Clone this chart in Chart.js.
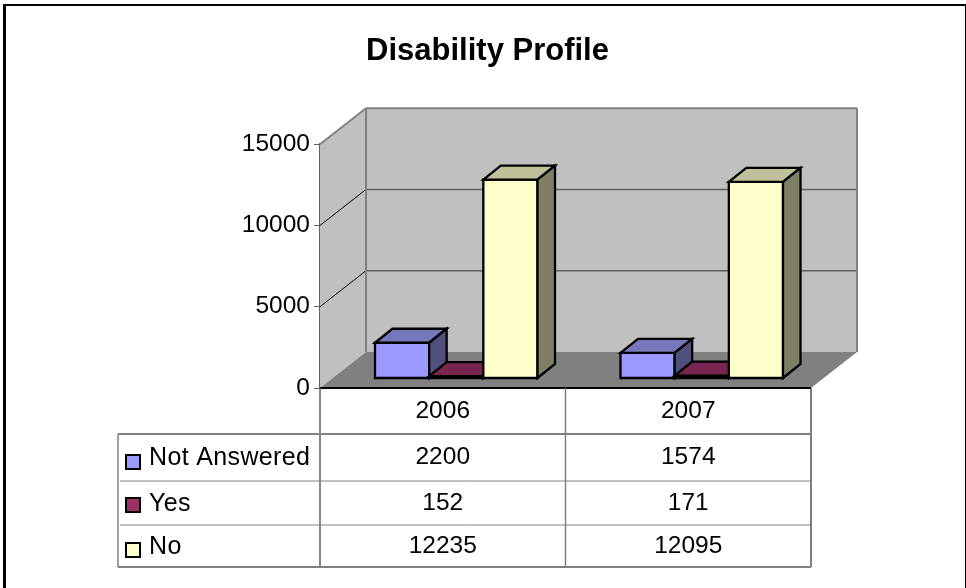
<!DOCTYPE html>
<html>
<head>
<meta charset="utf-8">
<style>
  html, body { margin: 0; padding: 0; background: #fff; }
  #wrap { width: 966px; height: 588px; position: relative; }
</style>
<script src="https://cdn.jsdelivr.net/npm/chart.js@4/dist/chart.umd.min.js"></script>
</head>
<body>
<div id="wrap"><canvas id="chart" width="966" height="588"></canvas></div>
<script>
const years = ["2006", "2007"];
const notAnswered = [2200, 1574];
const yes = [152, 171];
const no = [12235, 12095];
const yTicks = [0, 5000, 10000, 15000];

const FONT = '"Liberation Sans", Arial, sans-serif';
const DEPTH_X = 46;
const DEPTH_Y = -36;
const BAR_SHIFT_X = 13.5;
const BAR_SHIFT_Y = -9.5;
const BAR_DX = 17.5;
const BAR_DY = -14;
const BAR_STROKE = 2.3;

function line(ctx, x1, y1, x2, y2, color, width) {
  ctx.strokeStyle = color;
  ctx.lineWidth = width;
  ctx.beginPath();
  ctx.moveTo(x1, y1);
  ctx.lineTo(x2, y2);
  ctx.stroke();
}

function poly(ctx, pts, fill, stroke, width) {
  ctx.beginPath();
  pts.forEach((p, i) => (i ? ctx.lineTo(p[0], p[1]) : ctx.moveTo(p[0], p[1])));
  ctx.closePath();
  if (fill) {
    ctx.fillStyle = fill;
    ctx.fill();
  }
  if (stroke) {
    ctx.strokeStyle = stroke;
    ctx.lineWidth = width;
    ctx.lineJoin = "miter";
    ctx.stroke();
  }
}

// walls, floor, then the bars left to right so each one covers the last
const scene = {
  id: "scene",
  beforeDraw(chart) {
    const { ctx, width } = chart;
    ctx.save();
    ctx.fillStyle = "#000";
    ctx.fillRect(3, 4, 3, chart.height - 4);
    ctx.fillRect(3, 4, width - 3, 2);
    ctx.fillRect(width - 1, 4, 1, chart.height - 4);
    ctx.restore();
  },
  beforeDatasetsDraw(chart) {
    const { ctx, chartArea: a, scales } = chart;
    const y = scales.y;
    const bx = a.left + DEPTH_X;
    const rx = a.right + DEPTH_X;
    ctx.save();
    poly(ctx, [[a.left, y.top], [bx, y.top + DEPTH_Y], [bx, a.bottom + DEPTH_Y], [a.left, a.bottom]], "#c0c0c0");
    poly(ctx, [[bx, y.top + DEPTH_Y], [rx, y.top + DEPTH_Y], [rx, a.bottom + DEPTH_Y], [bx, a.bottom + DEPTH_Y]], "#c0c0c0");
    poly(ctx, [[a.left, a.bottom], [a.right, a.bottom], [rx, a.bottom + DEPTH_Y], [bx, a.bottom + DEPTH_Y]], "#808080");
    yTicks.slice(1, -1).forEach((v) => {
      const py = y.getPixelForValue(v);
      line(ctx, a.left, py, bx, py + DEPTH_Y, "#000", 1);
      line(ctx, bx, py + DEPTH_Y, rx, py + DEPTH_Y, "#606060", 1.5);
    });
    line(ctx, a.left, y.top, bx, y.top + DEPTH_Y, "#808080", 2);
    line(ctx, bx, y.top + DEPTH_Y, rx, y.top + DEPTH_Y, "#808080", 2);
    line(ctx, bx, y.top + DEPTH_Y, bx, a.bottom + DEPTH_Y, "#808080", 2);
    line(ctx, rx, y.top + DEPTH_Y, rx, a.bottom + DEPTH_Y, "#808080", 2);
    line(ctx, a.left, a.bottom, a.right, a.bottom, "#000", 2);

    chart.data.datasets.forEach((ds, i) => {
      const meta = chart.getDatasetMeta(i);
      ctx.save();
      ctx.translate(BAR_SHIFT_X, BAR_SHIFT_Y);
      meta.controller.draw();
      meta.data.forEach((bar) => {
        const l = bar.x - bar.width / 2;
        const r = bar.x + bar.width / 2;
        const t = bar.y;
        const b = bar.base;
        poly(ctx, [[l, t], [r, t], [r, b], [l, b]], null, "#000", BAR_STROKE);
        poly(ctx, [[l, t], [l + BAR_DX, t + BAR_DY], [r + BAR_DX, t + BAR_DY], [r, t]], ds.topColor, "#000", BAR_STROKE);
        poly(ctx, [[r, t], [r + BAR_DX, t + BAR_DY], [r + BAR_DX, b + BAR_DY], [r, b]], ds.sideColor, "#000", BAR_STROKE);
      });
      ctx.restore();
    });
    ctx.restore();
    return false;
  },
};

// data table under the plot, with legend keys
const dataTable = {
  id: "dataTable",
  afterDraw(chart) {
    const { ctx, chartArea: a, scales } = chart;
    const left = 118;
    const rowY = [434, 481, 525, 567];
    const keyY = [455, 498, 543];
    const cols = [a.left, (a.left + a.right) / 2, a.right];
    ctx.save();
    line(ctx, a.left, a.bottom, a.left, rowY[3], "#606060", 1.5);
    line(ctx, cols[1], a.bottom, cols[1], rowY[3], "#808080", 1.5);
    line(ctx, cols[2], a.bottom, cols[2], rowY[3], "#505050", 1.5);
    line(ctx, left, rowY[0], left, rowY[3], "#808080", 1.5);
    rowY.forEach((ry, i) => {
      const outer = i === 0 || i === 3;
      line(ctx, outer ? left : left + 2, ry, cols[2], ry, "#808080", outer ? 2 : 1);
    });

    ctx.textBaseline = "middle";
    chart.data.datasets.forEach((ds, i) => {
      const cy = (rowY[i] + rowY[i + 1]) / 2;
      ctx.fillStyle = ds.backgroundColor;
      ctx.strokeStyle = "#000";
      ctx.lineWidth = 2;
      ctx.fillRect(126, keyY[i], 14, 14);
      ctx.strokeRect(126, keyY[i], 14, 14);
      ctx.fillStyle = "#000";
      ctx.textAlign = "left";
      ctx.font = "25px " + FONT;
      ctx.letterSpacing = "0.35px";
      ctx.fillText(ds.label, 149, cy + 1);
      ctx.letterSpacing = "0px";
      ctx.textAlign = "center";
      ctx.font = "24.5px " + FONT;
      ds.data.forEach((v, j) => {
        ctx.fillText(String(v), scales.x.getPixelForValue(j), cy);
      });
    });
    ctx.restore();
  },
};

new Chart(document.getElementById("chart"), {
  type: "bar",
  data: {
    labels: years,
    datasets: [
      { label: "Not Answered", data: notAnswered, backgroundColor: "#9999ff", topColor: "#7777bb", sideColor: "#50507f" },
      { label: "Yes", data: yes, backgroundColor: "#993366", topColor: "#77264f", sideColor: "#4f1a33" },
      { label: "No", data: no, backgroundColor: "#ffffcc", topColor: "#bfbf99", sideColor: "#7f7f66" },
    ],
  },
  plugins: [scene, dataTable],
  options: {
    responsive: false,
    animation: false,
    layout: { padding: { left: 9, right: 0, top: 0, bottom: 0 } },
    datasets: {
      bar: {
        barPercentage: 1,
        categoryPercentage: 0.662,
        borderWidth: 0,
      },
    },
    plugins: {
      legend: { display: false },
      tooltip: { enabled: false },
      title: {
        display: true,
        text: "Disability Profile",
        color: "#000",
        font: { family: FONT, size: 31, weight: "bold" },
        padding: { top: 33, bottom: 74 },
      },
    },
    scales: {
      x: {
        afterFit: (s) => { s.height = 200; },
        grid: { display: false },
        border: { display: false },
        ticks: { color: "#000", font: { family: FONT, size: 24.5 }, padding: 1, maxRotation: 0 },
      },
      y: {
        min: 0,
        max: 15000,
        afterFit: (s) => { s.width = 311; },
        afterBuildTicks: (s) => { s.ticks = yTicks.map((value) => ({ value })); },
        grid: { drawOnChartArea: false, drawTicks: true, tickLength: 6, color: "#606060" },
        border: { display: true, color: "#606060", width: 1.5 },
        ticks: { color: "#000", font: { family: FONT, size: 24.5 }, padding: 4, callback: (v) => String(v) },
      },
      // empty axis keeps the blank strip right of the plot
      spacer: {
        position: "right",
        afterFit: (s) => { s.width = 155; },
        grid: { display: false },
        border: { display: false },
        ticks: { display: false },
      },
    },
  },
});
</script>
</body>
</html>
